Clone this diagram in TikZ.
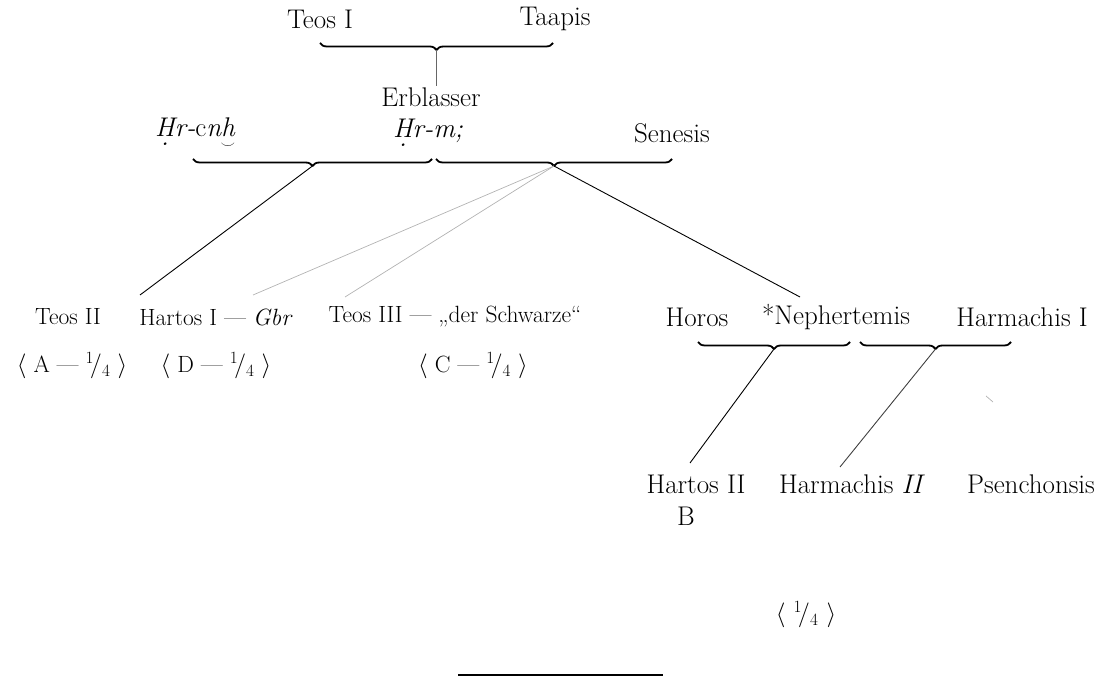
\documentclass[tikz,border=0pt]{standalone}
\usetikzlibrary{decorations.pathreplacing}
\newcommand{\dotH}{\ooalign{H\cr\hidewidth\raisebox{-0.8ex}{.}\hidewidth\cr}}
\newcommand{\breveh}{\ooalign{h\cr\hidewidth\raisebox{-1.0ex}{\scalebox{0.6}{$\smile$}}\hidewidth\cr}}
\begin{document}
\begin{tikzpicture}[>=latex,line join=bevel,
  font=\fontsize{27bp}{31bp}\selectfont,
  every node/.style={inner sep=1bp},
  small_row/.style={font=\fontsize{23.5bp}{27bp}\selectfont},
  brace_below/.style={decorate,decoration={brace,mirror,amplitude=7bp},line width=1.8bp},
  stem/.style={line width=0.9bp},
  faint/.style={black!30,line width=0.7bp},
]
\useasboundingbox (0bp,0bp) rectangle (1113bp,677bp);
%%
\node (teos_1) at (320bp,658bp) {Teos I};
  \node (taapis) at (555bp,658bp) {Taapis};
  \node (erblasser) at (431bp,580bp) {Erblasser};
  \node (hr_cnh) at (195bp,544bp) {\textit{\dotH r-}c\textit{n\breveh}};
  \node (hr_m) at (428bp,544bp) {\textit{\dotH r-m;}};
  \node (senesis) at (672bp,544bp) {Senesis};
  \node [small_row] (teos_2) at (68bp,360bp) {Teos II};
  \node [small_row] (hartos_1) at (216bp,360bp) {Hartos I --- \textit{Gbr}};
  \node [small_row] (teos_3) at (455bp,360bp) {Teos III --- „der Schwarze“};
  \node (horos) at (697bp,360bp) {Horos};
  \node (nephertemis) at (836bp,360bp) {*Nephertemis};
  \node (harmachis_1) at (1022bp,360bp) {Harmachis I};
  \node [small_row] (share_a) at (72bp,311bp) {$\langle$ A --- $^1\!/_4$ $\rangle$};
  \node [small_row] (share_d) at (216bp,311bp) {$\langle$ D --- $^1\!/_4$ $\rangle$};
  \node [small_row] (share_c) at (473bp,311bp) {$\langle$ C --- $^1\!/_4$ $\rangle$};
  \node (hartos_2) at (696bp,193bp) {Hartos II};
  \node (label_b) at (686bp,161bp) {B};
  \node (harmachis_2) at (852bp,193bp) {Harmachis \textit{II}};
  \node (psenchonsis) at (1031bp,193bp) {Psenchonsis};
  \node (share_q) at (806bp,62bp) {$\langle$ $^1\!/_4$ $\rangle$};
%
  \coordinate (tip_e) at (436.5bp,627bp);
  \coordinate (tip_a) at (312.5bp,511bp);
  \coordinate (tip_b) at (554bp,511bp);
  \coordinate (tip_c) at (774bp,328bp);
  \coordinate (tip_d) at (935.5bp,328bp);
  \coordinate (end_teos_2) at (140bp,382bp);
  \coordinate (end_hartos_1) at (253bp,382bp);
  \coordinate (end_teos_3) at (345bp,380bp);
  \coordinate (end_neph) at (800bp,380bp);
  \coordinate (end_hartos_2) at (690bp,214bp);
  \coordinate (end_harm_2) at (840bp,210bp);
  \coordinate (stub_a) at (986bp,281bp);
  \coordinate (stub_b) at (993bp,275bp);
%
  \draw [brace_below] (320bp,634bp) -- (553bp,634bp);
  \draw [brace_below] (193bp,518bp) -- (432bp,518bp);
  \draw [brace_below] (436bp,518bp) -- (672bp,518bp);
  \draw [brace_below] (698bp,335bp) -- (850bp,335bp);
  \draw [brace_below] (860bp,335bp) -- (1011bp,335bp);
  \draw [stem,black!60] (tip_e) -- (tip_e |- erblasser.north);
  \draw [stem] (tip_a) -- (end_teos_2);
  \draw [faint] (tip_b) -- (end_hartos_1);
  \draw [faint] (tip_b) -- (end_teos_3);
  \draw [stem] (tip_b) -- (end_neph);
  \draw [stem] (tip_c) -- (end_hartos_2);
  \draw [stem,black!75] (tip_d) -- (end_harm_2);
  \draw [faint] (stub_a) -- (stub_b);
  \draw [line width=1.5bp] (458bp,2bp) -- (663bp,2bp);
%
\end{tikzpicture}
\end{document}
